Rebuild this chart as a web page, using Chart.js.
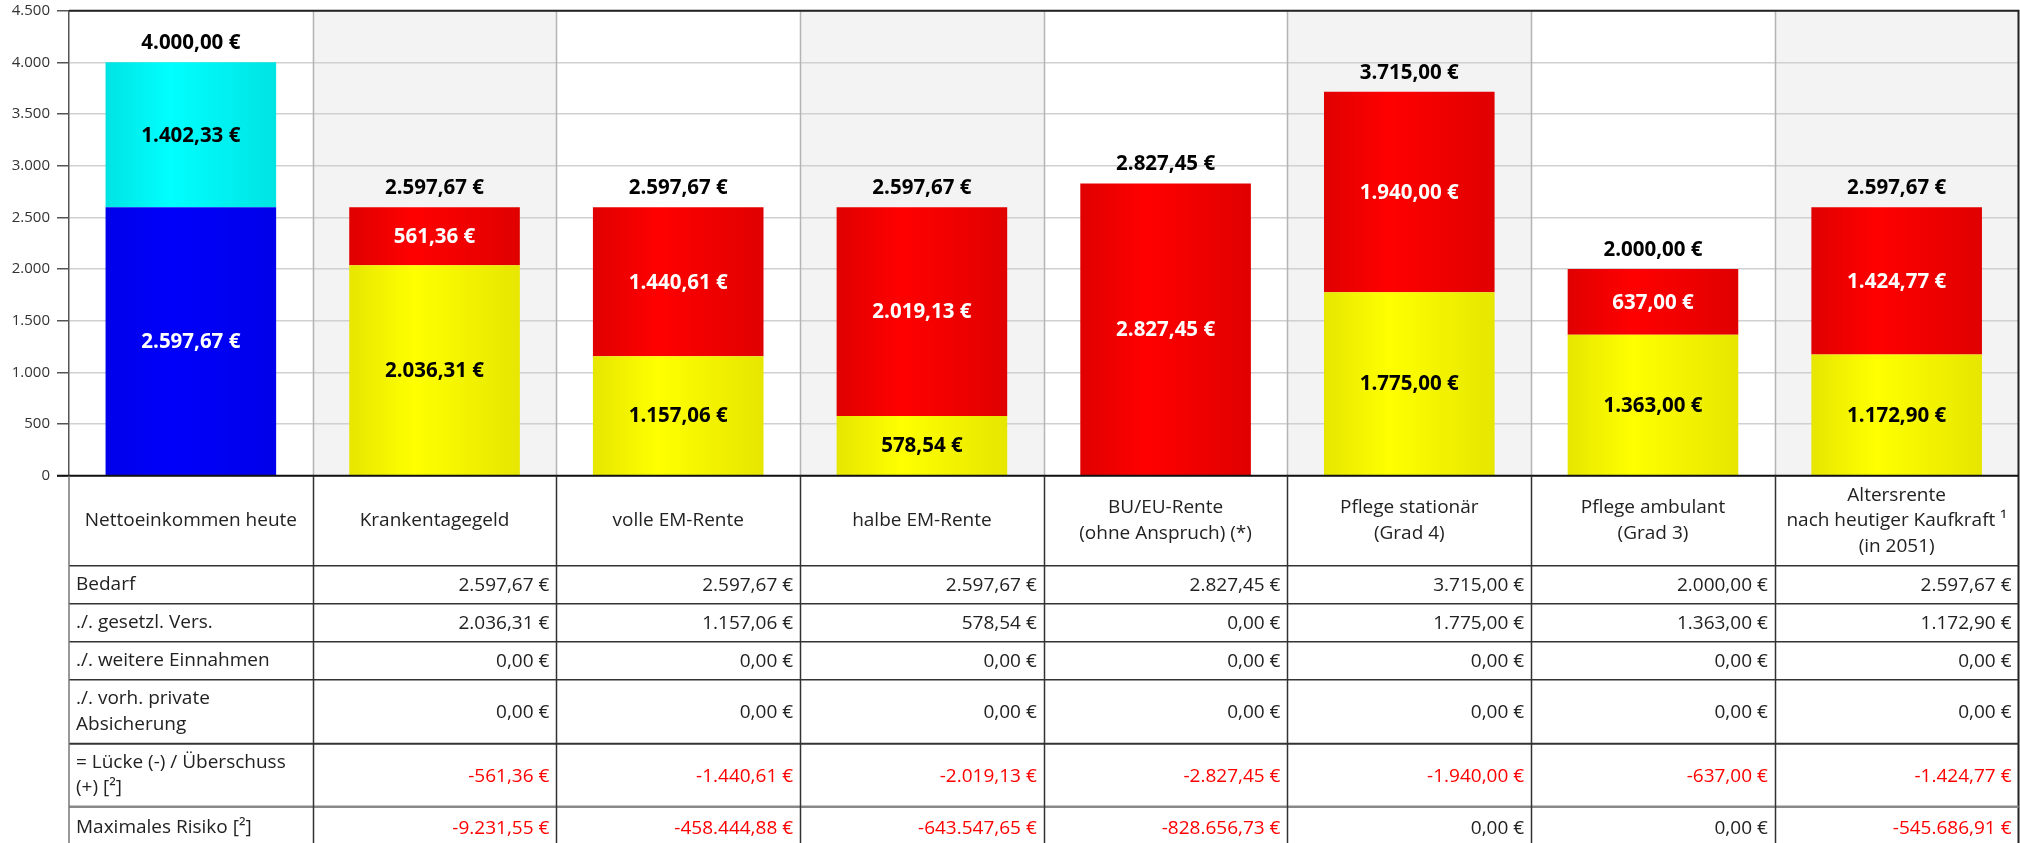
<!DOCTYPE html>
<html>
<head>
<meta charset="utf-8">
<script src="https://cdn.jsdelivr.net/npm/chart.js@4.4.1/dist/chart.umd.min.js"></script>
<style>
  html, body { margin: 0; padding: 0; background: #fff; overflow: hidden; }
</style>
</head>
<body>
<canvas id="chart_versorgungsluecke" width="2020" height="843"></canvas>
<script>
// categories (x axis / table header)
var categories = [
    'Nettoeinkommen heute',
    'Krankentagegeld',
    'volle EM-Rente',
    'halbe EM-Rente',
    ['BU/EU-Rente', '(ohne Anspruch) (*)'],
    ['Pflege stationär', '(Grad 4)'],
    ['Pflege ambulant', '(Grad 3)'],
    ['Altersrente', 'nach heutiger Kaufkraft \u00b9', '(in 2051)']
];

// bar segments
var nettoBasis = [2597.67, null, null, null, null, null, null, null];
var nettoPlus = [1402.33, null, null, null, null, null, null, null];
var gesetzlVers = [null, 2036.31, 1157.06, 578.54, 0, 1775.00, 1363.00, 1172.90];
var luecke = [null, 561.36, 1440.61, 2019.13, 2827.45, 1940.00, 637.00, 1424.77];

// table rows (columns 2..8)
var rowLabels = [
    ['Bedarf'],
    ['./. gesetzl. Vers.'],
    ['./. weitere Einnahmen'],
    ['./. vorh. private', 'Absicherung'],
    ['= L\u00fccke (-) / \u00dcberschuss', '(+) [\u00b2]'],
    ['Maximales Risiko [\u00b2]']
];
var rowBedarf = [2597.67, 2597.67, 2597.67, 2827.45, 3715.00, 2000.00, 2597.67];
var rowGesetzl = [2036.31, 1157.06, 578.54, 0.00, 1775.00, 1363.00, 1172.90];
var rowWeitere = [0.00, 0.00, 0.00, 0.00, 0.00, 0.00, 0.00];
var rowPrivat = [0.00, 0.00, 0.00, 0.00, 0.00, 0.00, 0.00];
var rowLuecke = [-561.36, -1440.61, -2019.13, -2827.45, -1940.00, -637.00, -1424.77];
var rowRisiko = [-9231.55, -458444.88, -643547.65, -828656.73, 0.00, 0.00, -545686.91];
var tableRows = [rowBedarf, rowGesetzl, rowWeitere, rowPrivat, rowLuecke, rowRisiko];

var FONT = "'Open Sans', sans-serif";

function groupThousands(intStr) {
    return intStr.replace(/\B(?=(\d{3})+(?!\d))/g, '.');
}
function euro(v) {
    var neg = v < 0;
    var parts = Math.abs(v).toFixed(2).split('.');
    return (neg ? '-' : '') + groupThousands(parts[0]) + ',' + parts[1] + ' \u20ac';
}

function barGradient(dark, bright) {
    return function(context) {
        var chart = context.chart;
        if (!chart.chartArea) {
            return bright;
        }
        var xs = chart.scales.x;
        var cx = xs.getPixelForValue(context.dataIndex);
        var half = xs.width / categories.length * 0.7 / 2;
        var g = chart.ctx.createLinearGradient(cx - half, 0, cx + half, 0);
        g.addColorStop(0, dark);
        g.addColorStop(0.38, bright);
        g.addColorStop(1, dark);
        return g;
    };
}

var datasets = [
    { label: 'Nettoeinkommen', data: nettoBasis, backgroundColor: barGradient('#0000ea', '#0000fa'), labelColor: '#fff' },
    { label: 'Reserve', data: nettoPlus, backgroundColor: barGradient('#00e3e3', '#00ffff'), labelColor: '#000' },
    { label: 'gesetzl. Vers.', data: gesetzlVers, backgroundColor: barGradient('#e6e600', '#ffff00'), labelColor: '#000' },
    { label: 'L\u00fccke', data: luecke, backgroundColor: barGradient('#e00000', '#ff0000'), labelColor: '#fff' }
];

// column stripes + vertical grid in the plot area
var stripePlugin = {
    id: 'stripes',
    beforeDraw: function(chart) {
        var ctx = chart.ctx, a = chart.chartArea, xs = chart.scales.x;
        var cw = xs.width / categories.length;
        ctx.save();
        ctx.fillStyle = '#fff';
        ctx.fillRect(0, 0, chart.width, chart.height);
        ctx.fillStyle = '#f3f3f3';
        for (var i = 1; i < categories.length; i += 2) {
            var l = xs.getPixelForValue(i) - cw / 2;
            ctx.fillRect(l, a.top, cw, a.bottom - a.top);
        }
        ctx.restore();
    },
    beforeDatasetsDraw: function(chart) {
        var ctx = chart.ctx, a = chart.chartArea, xs = chart.scales.x;
        var cw = xs.width / categories.length;
        ctx.save();
        ctx.strokeStyle = '#b4b4b4';
        ctx.lineWidth = 1.5;
        for (var i = 1; i < categories.length; i++) {
            var x = Math.round(xs.getPixelForValue(i) - cw / 2) + 0.5;
            ctx.beginPath();
            ctx.moveTo(x, a.top);
            ctx.lineTo(x, a.bottom);
            ctx.stroke();
        }
        // frame top / right
        ctx.strokeStyle = '#222';
        ctx.lineWidth = 2;
        ctx.beginPath();
        ctx.moveTo(a.left, a.top);
        ctx.lineTo(a.right, a.top);
        ctx.lineTo(a.right, chart.height);
        ctx.stroke();
        ctx.restore();
    }
};

// values inside the bars and totals above them
var barLabelPlugin = {
    id: 'barLabels',
    afterDatasetsDraw: function(chart) {
        var ctx = chart.ctx, a = chart.chartArea;
        ctx.save();
        ctx.font = 'bold 20.5px ' + FONT;
        ctx.textAlign = 'center';
        ctx.textBaseline = 'middle';
        var tops = [], sums = [];
        chart.data.datasets.forEach(function(ds, di) {
            var meta = chart.getDatasetMeta(di);
            meta.data.forEach(function(bar, i) {
                var v = ds.data[i];
                if (v === null || v === undefined) return;
                sums[i] = (sums[i] || 0) + v;
                if (tops[i] === undefined || bar.y < tops[i]) tops[i] = bar.y;
                if (v <= 0) return;
                ctx.fillStyle = ds.labelColor;
                ctx.fillText(euro(v), bar.x, (bar.y + bar.base) / 2 + 1);
            });
        });
        ctx.fillStyle = '#000';
        for (var i = 0; i < categories.length; i++) {
            if (sums[i] === undefined) continue;
            ctx.fillText(euro(sums[i]), chart.scales.x.getPixelForValue(i), tops[i] - 19);
        }
        // zero line
        ctx.strokeStyle = '#111';
        ctx.lineWidth = 2;
        ctx.beginPath();
        ctx.moveTo(a.left - 12, a.bottom);
        ctx.lineTo(a.right, a.bottom);
        ctx.stroke();
        ctx.restore();
    }
};

// the table under the plot, aligned with the category columns
var tablePlugin = {
    id: 'dataTable',
    afterDraw: function(chart) {
        var ctx = chart.ctx, a = chart.chartArea, xs = chart.scales.x;
        var cw = xs.width / categories.length;
        var headerH = 90;
        var rowH = [38, 38, 38, 64, 63, 42];
        var lineH = 25.6;
        var colLeft = function(i) { return xs.getPixelForValue(i) - cw / 2; };
        ctx.save();
        ctx.font = '19px ' + FONT;
        ctx.textBaseline = 'middle';
        ctx.fillStyle = '#222';

        // header
        var y0 = a.bottom;
        ctx.textAlign = 'center';
        categories.forEach(function(c, i) {
            var lines = Array.isArray(c) ? c : [c];
            var cy = y0 + headerH / 2 - (lines.length - 1) * lineH / 2;
            lines.forEach(function(t, k) {
                ctx.fillText(t, xs.getPixelForValue(i), cy + k * lineH);
            });
        });

        // rows
        var y = y0 + headerH;
        var rowTops = [];
        rowLabels.forEach(function(lbl, r) {
            rowTops.push(y);
            var mid = y + rowH[r] / 2;
            ctx.textAlign = 'left';
            ctx.fillStyle = '#222';
            lbl.forEach(function(t, k) {
                ctx.fillText(t, colLeft(0) + 7, mid - (lbl.length - 1) * lineH / 2 + k * lineH);
            });
            ctx.textAlign = 'right';
            tableRows[r].forEach(function(v, c) {
                ctx.fillStyle = v < 0 ? '#ff0000' : '#222';
                ctx.fillText(euro(v), colLeft(c + 2) - 7, mid + 1);
            });
            y += rowH[r];
        });

        // grid of the table
        rowTops.forEach(function(t, r) {
            ctx.strokeStyle = r === 5 ? '#888' : '#333';
            ctx.lineWidth = r === 5 ? 2.5 : (r === 4 ? 2 : 1.5);
            ctx.beginPath();
            ctx.moveTo(a.left, t);
            ctx.lineTo(a.right, t);
            ctx.stroke();
        });
        ctx.strokeStyle = '#333';
        ctx.lineWidth = 1.5;
        for (var i = 1; i < categories.length; i++) {
            var x = Math.round(colLeft(i)) + 0.5;
            ctx.beginPath();
            ctx.moveTo(x, a.bottom);
            ctx.lineTo(x, chart.height);
            ctx.stroke();
        }
        ctx.strokeStyle = '#777';
        ctx.beginPath();
        ctx.moveTo(a.left, a.bottom);
        ctx.lineTo(a.left, chart.height);
        ctx.stroke();
        ctx.restore();
    }
};

var chart_versorgungsluecke = new Chart(document.getElementById('chart_versorgungsluecke'), {
    type: 'bar',
    data: {
        labels: categories,
        datasets: datasets
    },
    options: {
        animation: false,
        responsive: false,
        maintainAspectRatio: false,
        barPercentage: 0.7,
        categoryPercentage: 1,
        layout: {
            padding: { top: 10.7, right: 1.5, bottom: 367.3, left: 0 }
        },
        plugins: {
            legend: { display: false },
            tooltip: { enabled: false }
        },
        scales: {
            x: {
                stacked: true,
                display: false
            },
            y: {
                stacked: true,
                min: 0,
                max: 4500,
                afterFit: function(scale) {
                    scale.width = 69;
                    scale.paddingTop = 0;
                    scale.paddingBottom = 0;
                },
                ticks: {
                    stepSize: 500,
                    padding: 7,
                    color: '#333',
                    font: { family: FONT, size: 15 },
                    callback: function(value) {
                        return groupThousands(String(value));
                    }
                },
                grid: {
                    color: '#d0d0d0',
                    lineWidth: 1.5,
                    tickLength: 12,
                    tickColor: '#555'
                },
                border: {
                    display: true,
                    color: '#555',
                    width: 1.5
                }
            }
        }
    },
    plugins: [stripePlugin, barLabelPlugin, tablePlugin]
});
</script>
</body>
</html>
